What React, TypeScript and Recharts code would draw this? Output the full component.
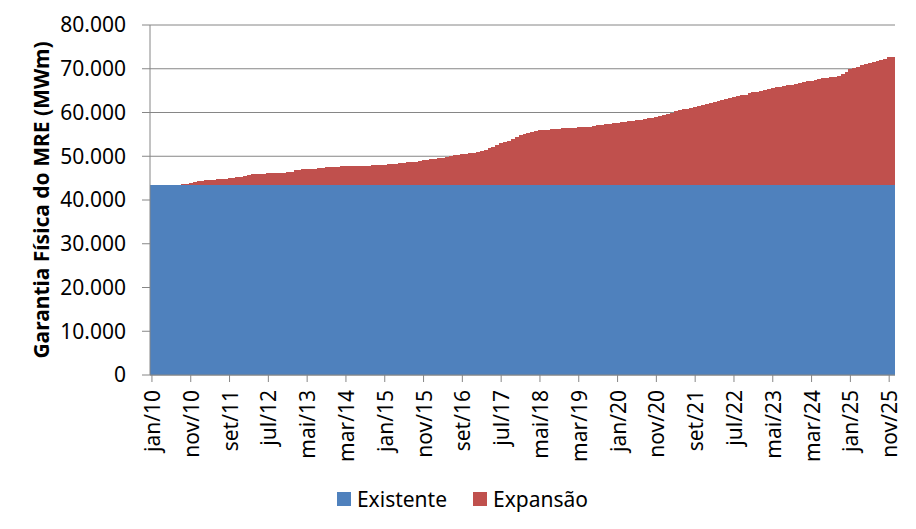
import React from "react";
import { BarChart, Bar, XAxis, YAxis, CartesianGrid, Legend } from "recharts";

const monthNames = ["jan", "fev", "mar", "abr", "mai", "jun", "jul", "ago", "set", "out", "nov", "dez"];
const years = ["10", "11", "12", "13", "14", "15", "16", "17", "18", "19", "20", "21", "22", "23", "24", "25"];

const EXISTENTE = 43400;

const expansao = [
  0, 0, 0, 0, 0, 0, 50, 100, 200, 350,
  500, 650, 850, 1000, 1100, 1200, 1250, 1300, 1400, 1500,
  1600, 1650, 1750, 1900, 2100, 2400, 2500, 2550, 2600, 2650,
  2700, 2750, 2800, 2850, 2850, 2900, 3100, 3400, 3500, 3600,
  3650, 3750, 3800, 3900, 3950, 4050, 4100, 4200, 4250, 4300,
  4300, 4350, 4350, 4400, 4400, 4400, 4450, 4500, 4550, 4600,
  4700, 4750, 4850, 4900, 5000, 5100, 5200, 5300, 5400, 5550,
  5700, 5800, 5900, 6000, 6150, 6300, 6450, 6600, 6800, 6950,
  7100, 7200, 7300, 7400, 7550, 7800, 8100, 8500, 8800, 9200,
  9600, 9900, 10200, 10500, 11000, 11400, 11800, 12000, 12200, 12400,
  12550, 12600, 12650, 12750, 12800, 12900, 12950, 12950, 13000, 13050,
  13200, 13250, 13300, 13400, 13500, 13700, 13800, 13900, 14000, 14100,
  14300, 14400, 14500, 14600, 14700, 14850, 15000, 15150, 15300, 15450,
  15600, 15850, 16100, 16300, 16600, 16900, 17200, 17350, 17500, 17700,
  17900, 18100, 18300, 18600, 18800, 19000, 19200, 19400, 19700, 19900,
  20100, 20300, 20500, 20700, 20950, 21200, 21400, 21600, 21800, 22000,
  22200, 22350, 22500, 22650, 22850, 23000, 23200, 23400, 23600, 23750,
  23900, 24050, 24200, 24400, 24500, 24700, 24800, 25000, 25300, 25900,
  26500, 26800, 27100, 27400, 27700, 27900, 28200, 28400, 28700, 28900,
  29200, 29400,
];

const yTicks = [0, 10000, 20000, 30000, 40000, 50000, 60000, 70000, 80000];

const seriesNames = ["Existente", "Expansão"];
const seriesColors = ["#4F81BD", "#C0504D"];

const categories: string[] = [];
years.forEach((y) => monthNames.forEach((m) => categories.push(`${m}/${y}`)));

const data = categories.map((c, i) => ({
  mes: c,
  Existente: EXISTENTE,
  "Expansão": expansao[i],
}));

const fmt = (v: number) => (v === 0 ? "0" : v.toLocaleString("de-DE"));

const FONT = "'Noto Sans', sans-serif";

const XTick = (props: any) => {
  const { x, y, payload } = props;
  return (
    <text
      x={x}
      y={y}
      transform={`rotate(-90, ${x}, ${y})`}
      textAnchor="end"
      dominantBaseline="central"
      fontSize={21}
      fill="#000"
      fontFamily={FONT}
    >
      {payload.value}
    </text>
  );
};

const LegendContent = () => (
  <div
    style={{
      display: "flex",
      justifyContent: "center",
      alignItems: "center",
      fontFamily: FONT,
      fontSize: 21,
      color: "#000",
      paddingLeft: 30,
    }}
  >
    {seriesNames.map((n, i) => (
      <div key={n} style={{ display: "flex", alignItems: "center", marginRight: i === 0 ? 26 : 0 }}>
        <span style={{ display: "inline-block", width: 14, height: 14, background: seriesColors[i], marginRight: 6 }} />
        <span>{n}</span>
      </div>
    ))}
  </div>
);

export default function App() {
  return (
    <div style={{ position: "absolute", left: 0, top: 0 }}>
      <BarChart
        width={916}
        height={529}
        data={data}
        margin={{ top: 25, right: 21, left: 0, bottom: 0 }}
        barCategoryGap={0}
        barGap={0}
      >
        <CartesianGrid vertical={false} stroke="#868686" strokeWidth={1} />
        <XAxis
          dataKey="mes"
          interval={9}
          height={110}
          tick={<XTick />}
          tickSize={7}
          tickMargin={8}
          stroke="#868686"
          tickLine={{ stroke: "#868686" }}
          axisLine={{ stroke: "#868686" }}
        />
        <YAxis
          width={150}
          domain={[0, 80000]}
          ticks={yTicks}
          tickFormatter={fmt}
          tickSize={8}
          tickMargin={16}
          interval={0}
          tick={{ fontSize: 21, fill: "#000", fontFamily: FONT }}
          stroke="#868686"
          label={{
            value: "Garantia Física do MRE (MWm)",
            angle: -90,
            position: "insideLeft",
            offset: 42,
            style: { textAnchor: "middle", fontSize: 21, fontWeight: "bold", fill: "#000", fontFamily: FONT },
          }}
        />
        <Legend verticalAlign="bottom" height={44} content={<LegendContent />} />
        <Bar dataKey="Existente" stackId="a" fill={seriesColors[0]} shapeRendering="crispEdges" isAnimationActive={false} />
        <Bar dataKey="Expansão" stackId="a" fill={seriesColors[1]} shapeRendering="crispEdges" isAnimationActive={false} />
      </BarChart>
    </div>
  );
}
